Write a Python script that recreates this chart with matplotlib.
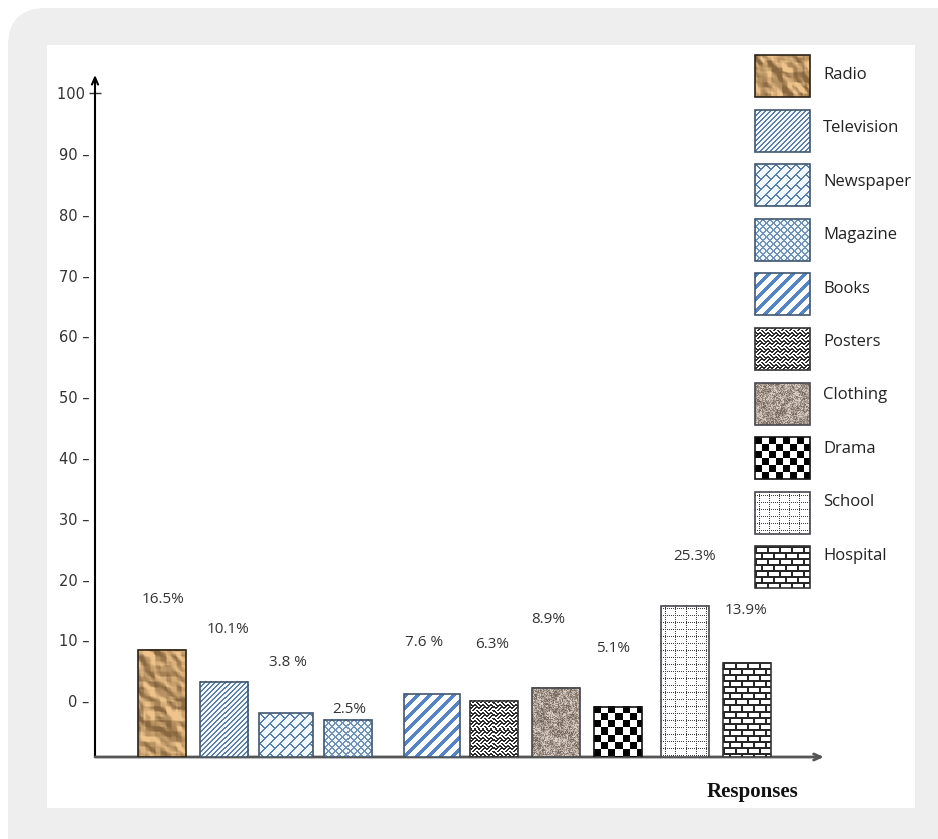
import numpy as np
import matplotlib
matplotlib.use("Agg")
import matplotlib.pyplot as plt
from matplotlib.patches import Rectangle, FancyBboxPatch

# survey responses by medium (share of responses, %)
media = ["Radio", "Television", "Newspaper", "Magazine", "Books",
         "Posters", "Clothing", "Drama", "School", "Hospital"]
share = [16.5, 10.1, 3.8, 2.5, 7.6, 6.3, 8.9, 5.1, 25.3, 13.9]
share_text = ["16.5%", "10.1%", "3.8 %", "2.5%", "7.6 %",
              "6.3%", "8.9%", "5.1%", "25.3%", "13.9%"]
y_ticks = [0, 10, 20, 30, 40, 50, 60, 70, 80, 90, 100]

W, H = 938, 839


# ---- fill textures (arrays in pixel units) ----
def blur(a, k):
    ker = np.ones(k) / k
    a = np.apply_along_axis(lambda r: np.convolve(r, ker, mode="same"), 0, a)
    return np.apply_along_axis(lambda r: np.convolve(r, ker, mode="same"), 1, a)


def smooth_noise(h, w, cell, seed):
    rng = np.random.default_rng(seed)
    g = rng.random(((h + 4 * cell) // cell + 1, (w + 4 * cell) // cell + 1))
    up = np.kron(g, np.ones((cell, cell)))
    up = blur(up, cell)
    return up[2 * cell:2 * cell + h, 2 * cell:2 * cell + w]


def paint(mask, fg, bg):
    fg = np.array(fg)
    bg = np.array(bg)
    return np.where(mask[..., None], fg, bg)


def tex_radio(h, w, seed=3):
    n = 0.7 * smooth_noise(h, w, 11, seed) + 0.3 * smooth_noise(h, w, 5, seed + 1)
    gy, gx = np.gradient(n)
    s = gx - gy
    s = np.clip(s / (np.abs(s).max() * 0.5 + 1e-9), -1, 1)
    base = np.array([0.74, 0.59, 0.40])
    amp = np.array([0.20, 0.18, 0.15])
    return np.clip(base + s[..., None] * amp, 0, 1)


def tex_clothing(h, w, seed=5):
    n = 0.6 * smooth_noise(h, w, 1, seed) + 0.4 * smooth_noise(h, w, 3, seed + 2)
    n = (n - n.min()) / (n.max() - n.min())
    n = np.clip((n - 0.5) * 1.5 + 0.5, 0, 1)
    dark = np.array([0.46, 0.40, 0.36])
    light = np.array([0.86, 0.82, 0.78])
    return dark + n[..., None] * (light - dark)


def tex_tv(h, w):
    yy, xx = np.mgrid[0:h, 0:w]
    return paint((xx + yy) % 5 < 1.2, (0.36, 0.50, 0.66), (0.96, 0.98, 1.0))


def tex_news(h, w):
    yy, xx = np.mgrid[0:h, 0:w]
    u, v = xx + yy, xx - yy
    row = (u // 10) % 2
    mask = (u % 10 < 1.3) | ((v + row * 10) % 20 < 1.3)
    return paint(mask, (0.36, 0.50, 0.68), (0.94, 0.97, 1.0))


def tex_mag(h, w):
    yy, xx = np.mgrid[0:h, 0:w]
    mask = ((xx + yy) % 7 < 1.1) | ((xx - yy) % 7 < 1.1)
    return paint(mask, (0.45, 0.58, 0.72), (0.94, 0.97, 1.0))


def tex_books(h, w):
    yy, xx = np.mgrid[0:h, 0:w]
    return paint((xx + yy) % 12 < 4.5, (0.33, 0.52, 0.78), (1.0, 1.0, 1.0))


def tex_posters(h, w):
    yy, xx = np.mgrid[0:h, 0:w]
    u, v = xx + yy, xx - yy
    par = ((u // 8) + (v // 8)) % 2
    mask = np.where(par == 0, u % 4 < 1.6, v % 4 < 1.6)
    return paint(mask, (0.18, 0.18, 0.18), (1.0, 1.0, 1.0))


def tex_drama(h, w):
    yy, xx = np.mgrid[0:h, 0:w]
    return paint(((xx // 7) + (yy // 7)) % 2 == 0, (0.0, 0.0, 0.0), (1.0, 1.0, 1.0))


def tex_school(h, w):
    yy, xx = np.mgrid[0:h, 0:w]
    mask = ((xx % 10 == 4) & (yy % 2 == 0)) | ((yy % 7 == 3) & (xx % 2 == 0))
    return paint(mask, (0.25, 0.25, 0.25), (1.0, 1.0, 1.0))


def tex_hospital(h, w):
    yy, xx = np.mgrid[0:h, 0:w]
    row = (yy // 6) % 2
    mask = (yy % 6 < 1.6) | ((xx + row * 6) % 12 < 1.6)
    return paint(mask, (0.15, 0.15, 0.15), (1.0, 1.0, 1.0))


textures = {"Radio": tex_radio, "Television": tex_tv, "Newspaper": tex_news,
            "Magazine": tex_mag, "Books": tex_books, "Posters": tex_posters,
            "Clothing": tex_clothing, "Drama": tex_drama, "School": tex_school,
            "Hospital": tex_hospital}
edges = {"Radio": "#2b2218", "Television": "#3f5670", "Newspaper": "#3f5670",
         "Magazine": "#3f5670", "Books": "#3f5670", "Posters": "#333333",
         "Clothing": "#44474d", "Drama": "#111111", "School": "#44474d",
         "Hospital": "#333333"}

fig = plt.figure(figsize=(W / 100, H / 100), dpi=100)

# backdrop drawn in pixel coordinates
bg = fig.add_axes([0, 0, 1, 1], zorder=-2)
bg.set_xlim(0, W)
bg.set_ylim(H, 0)
bg.axis("off")
bg.set_autoscale_on(False)
bg.add_patch(FancyBboxPatch((8, 8), W + 60, H + 60,
                            boxstyle="round,pad=0,rounding_size=38",
                            fc="#eeeeee", ec="none"))
bg.add_patch(Rectangle((47, 45), 868, 763, fc="white", ec="none"))

# visible percentage axis
ax = fig.add_axes([95 / W, 1 - 757 / H, (824 - 95) / W, (757 - 75) / H])
ax.patch.set_alpha(0)
ax.set_ylim(-9.2, 103)
ax.set_xlim(-67 / 62, (824 - 162) / 62)
for sp in ax.spines.values():
    sp.set_visible(False)
ax.set_xticks([])
ax.yaxis.remove_overlapping_locs = False
ax.set_yticks(y_ticks, [f"{t} \u2013" for t in y_ticks[:-1]] + ["100 "])
ax.tick_params(axis="y", which="major", length=0, pad=4, labelsize=10.5,
               labelcolor="#333333")
ax.set_yticks([100], minor=True)
ax.tick_params(axis="y", which="minor", direction="inout", length=8,
               width=1, color="#333333")
ax.annotate("", xy=(0, 1), xytext=(0, 0), xycoords="axes fraction",
            arrowprops=dict(arrowstyle="->,head_length=0.5,head_width=0.22",
                            lw=1.5, color="black", shrinkA=0, shrinkB=0))
ax.annotate("", xy=(1, 0), xytext=(0, 0), xycoords="axes fraction",
            arrowprops=dict(arrowstyle="->,head_length=0.5,head_width=0.22",
                            lw=2, color="#555555", shrinkA=0, shrinkB=0))
fig.text(752 / W, 1 - 792 / H, "Responses", ha="center", va="center",
         family="Liberation Serif", weight="bold", fontsize=15, color="#111111")

# bars on their own scale, rising from the axis floor
floor = -5
ax2 = ax.twinx()
ax2.set_ylim(floor, floor + 682 / 5)
ax2.axis("off")
ax2.set_autoscale_on(False)

positions = np.arange(len(media)) + np.array([0] * 4 + [0.355] * 4 + [0.435] * 2)
widths = [0.76, 0.78, 0.87, 0.76, 0.9, 0.76, 0.76, 0.76, 0.76, 0.77]
bars = ax2.bar(positions, np.array(share) - floor, bottom=floor, width=widths,
               facecolor="none", edgecolor=[edges[m] for m in media],
               linewidth=1.2, zorder=3)

for m, b in zip(media, bars):
    x0, y0 = b.get_x(), b.get_y()
    x1, y1 = x0 + b.get_width(), y0 + b.get_height()
    (px0, py0), (px1, py1) = ax2.transData.transform([(x0, y0), (x1, y1)])
    img = textures[m](int(round(py1 - py0)), int(round(px1 - px0)))
    ax2.imshow(img, extent=(x0, x1, y0, y1), aspect="auto",
               interpolation="nearest", origin="upper", zorder=2)

label_dx = [1, 4, 2, 1, -8, -2, -8, -5, 10, -1]
label_dy = [50, 52, 50, 10, 52, 56, 68, 58, 49, 52]
for x, v, t, dx, dy in zip(positions, share, share_text, label_dx, label_dy):
    ax2.annotate(t, (x, v), xytext=(dx, dy), textcoords="offset pixels",
                 ha="center", va="center", family="Open Sans", fontsize=11,
                 color="#333333")

# legend boxes with the same fills
for i, m in enumerate(media):
    ty = 75 + i * 53.4
    top = ty - 20 + i * 1.2
    bx, bw, bh = 755, 55, 42
    bg.imshow(textures[m](bh, bw), extent=(bx, bx + bw, top + bh, top),
              aspect="auto", interpolation="nearest", origin="upper", zorder=2)
    bg.add_patch(Rectangle((bx, top), bw, bh, fc="none", ec=edges[m],
                           lw=1.2, zorder=3))
    bg.text(823, ty, m, ha="left", va="center", family="Open Sans",
            fontsize=12, color="#222222")

fig.savefig("out.png", dpi=100)
